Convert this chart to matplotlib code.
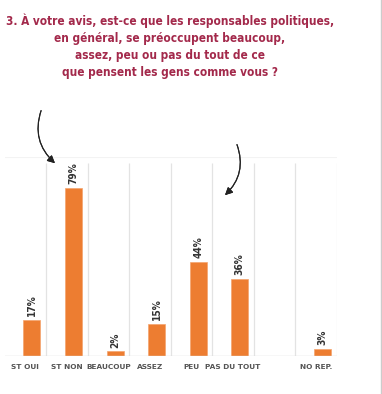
import numpy as np
import matplotlib.pyplot as plt
from matplotlib import font_manager as fm
from matplotlib.lines import Line2D

# Data
categories = ['ST OUI', 'ST NON', 'BEAUCOUP', 'ASSEZ', 'PEU', 'PAS DU TOUT', '', 'NO REP.']
values = [17, 79, 2, 15, 44, 36, None, 3]
title_lines = [
    "3. À votre avis, est-ce que les responsables politiques,",
    "en général, se préoccupent beaucoup,",
    "assez, peu ou pas du tout de ce",
    "que pensent les gens comme vous ?",
]

bar_color = '#ED7D31'
title_color = '#A3294B'

# look for a bold condensed face, the reference title uses one
cond = None
for f in fm.fontManager.ttflist:
    nm = (f.name + ' ' + f.fname).lower()
    if ('condensed' in nm or 'narrow' in nm or f.stretch == 'condensed') and f.weight in (700, 'bold'):
        if 'extra' in nm or 'semi' in nm or 'ultra' in nm:
            continue
        cond = f.fname
        break

if cond:
    title_fp = fm.FontProperties(fname=cond, size=8.5)
    val_fp = fm.FontProperties(fname=cond, size=7.3)
else:
    title_fp = fm.FontProperties(family='Liberation Sans', weight='bold', size=8)
    val_fp = fm.FontProperties(family='DejaVu Sans', weight='bold', size=6.3)

fig = plt.figure(figsize=(3.82, 3.94), dpi=100)
ax = fig.add_axes([4.5 / 382, 0.0972, (337 - 4.5) / 382, 0.5043])

x = np.arange(len(categories))
shown = [i for i, v in enumerate(values) if v is not None]
vals = [values[i] for i in shown]
offset = 0.16
bars = ax.bar(x[shown] + offset, vals, width=0.41, color=bar_color,
              edgecolor='#F4A46E', linewidth=0.5, zorder=3)

for b, v in zip(bars, vals):
    ax.text(b.get_x() + b.get_width() / 2, v + 1.8, f"{v}%", rotation=90,
            ha='center', va='bottom', color='#333333', fontproperties=val_fp)

ax.set_xlim(-0.5, len(categories) - 0.5)
ax.set_ylim(0, 93.4)
ax.vlines(x[:-1] + 0.5, 0, 90.6, color='#E3E3E3', lw=0.9, zorder=1)
ax.vlines([len(categories) - 0.5], 0, 90.6, color='#EDEDED', lw=0.9, zorder=1)
ax.axhline(93.2, color='#F3F3F3', lw=0.8)
ax.axhline(0, color='#D9D9D9', lw=1.0, zorder=4)

for s in ax.spines.values():
    s.set_visible(False)
ax.set_yticks([])
ax.set_xticks(x)
ax.set_xticklabels(categories, fontsize=5.3, color='#555555', fontweight='bold')
ax.tick_params(axis='x', length=0, pad=6)

for i, line in enumerate(title_lines):
    fig.text(170 / 382, 1 - (25 + i * 17) / 394, line, ha='center', va='baseline',
             color=title_color, fontproperties=title_fp)

# curved arrows
arrow = dict(arrowstyle='-|>', color='#222222', lw=0.8, mutation_scale=11)
fig.add_artist(plt.annotate('', xy=(57 / 382, 1 - 165 / 394), xytext=(42 / 382, 1 - 108 / 394),
                            xycoords='figure fraction', textcoords='figure fraction',
                            arrowprops=dict(arrow, connectionstyle='arc3,rad=0.35')))
fig.add_artist(plt.annotate('', xy=(223 / 382, 1 - 197 / 394), xytext=(236 / 382, 1 - 142 / 394),
                            xycoords='figure fraction', textcoords='figure fraction',
                            arrowprops=dict(arrow, connectionstyle='arc3,rad=-0.35')))

fig.add_artist(Line2D([381 / 382, 381 / 382], [0, 1], color='#CCCCCC', lw=1.0))

fig.savefig('out.png', dpi=100)
